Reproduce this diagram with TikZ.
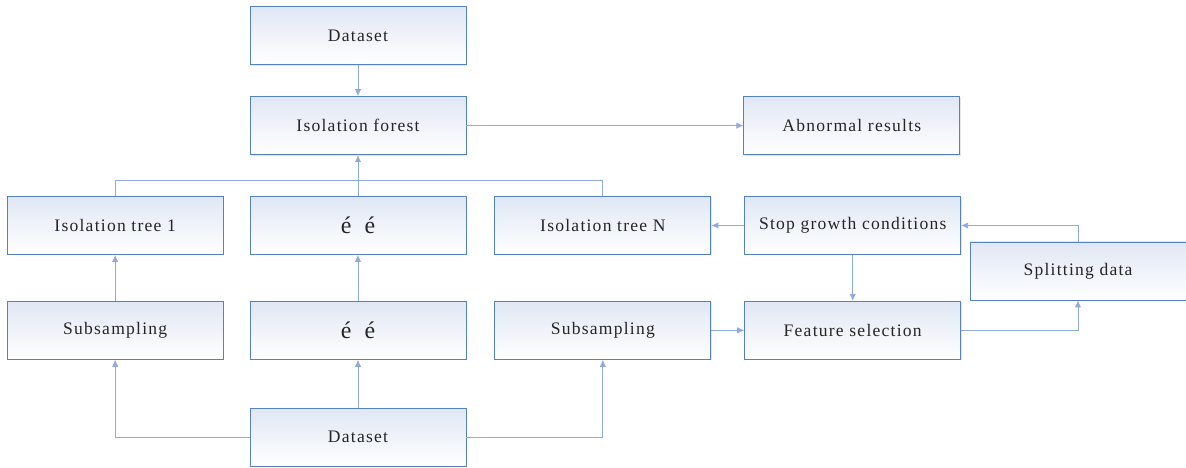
\documentclass[tikz,border=0pt]{standalone}
\usepackage{fontspec}
\setmainfont{Liberation Serif}[LetterSpace=7]
\usepackage{xcolor}
\usepackage{tikz}
\usetikzlibrary{arrows.meta,positioning,shadows}

\definecolor{boxline}{RGB}{84,130,190}
\definecolor{boxtop}{RGB}{224,231,244}
\definecolor{flowline}{RGB}{143,170,220}
\definecolor{labeltext}{RGB}{38,38,38}

\begin{document}
\begin{tikzpicture}[>={Latex[length=5pt,width=4.5pt]},auto,node distance=1cm,
                    box/.style={rectangle,draw=boxline,line width=0.6pt,
                        top color=boxtop,bottom color=white,
                        minimum width=5.4cm,minimum height=1.45cm,inner sep=2pt,
                        font=\fontsize{12.5}{15}\selectfont,text=labeltext,
                        drop shadow={opacity=0.2,shadow xshift=0.7pt,shadow yshift=-0.7pt}},
                    accent/.style={font=\fontsize{17}{20}\selectfont},
                    flow/.style={color=flowline,line width=0.6pt}]

    \useasboundingbox (0,0) rectangle (29.65,-11.7);

    % top part
    \node[box] (dtop) at (8.95,-0.89) {Dataset};
    \node[box] (forest) [below=0.78cm of dtop] {Isolation forest};
    \node[box] (abnorm) [right=6.925cm of forest] {Abnormal results};

    % trees
    \node[box,accent] (midup) [below=1.025cm of forest] {é\hspace{0.55em}é};
    \node[box] (tree1) [left=0.65cm of midup] {Isolation tree 1};
    \node[box] (treeN) [right=0.7cm of midup] {Isolation tree N};
    \node[box] (stop) [right=0.825cm of treeN] {Stop growth conditions};
    \node[box] (split) at (26.95,-6.775) {Splitting data};

    % sampling
    \node[box,accent] (midlow) [below=1.15cm of midup] {é\hspace{0.55em}é};
    \node[box] (sub1) [left=0.65cm of midlow] {Subsampling};
    \node[box] (sub2) [right=0.7cm of midlow] {Subsampling};
    \node[box] (feat) [right=0.825cm of sub2] {Feature selection};
    \node[box] (dbot) [below=1.2cm of midlow] {Dataset};

    \coordinate (join) at ([yshift=-0.625cm]forest.south);

    \path[flow,->,every edge/.append style={flow}]
        (dtop) edge (forest)
        (forest) edge (abnorm)
        (midup) edge (forest)
        (sub1) edge (tree1)
        (midlow) edge (midup)
        (dbot) edge (midlow)
        (sub2) edge (feat)
        (stop) edge (treeN)
               edge (feat);

    \draw[flow] (tree1.north) |- (join) -| (treeN.north);
    \draw[flow,->] (feat.east) -| (split.south);
    \draw[flow,->] (split.north) |- (stop.east);
    \draw[flow,->] (dbot.west) -| (sub1.south);
    \draw[flow,->] (dbot.east) -| (sub2.south);
\end{tikzpicture}
\end{document}
